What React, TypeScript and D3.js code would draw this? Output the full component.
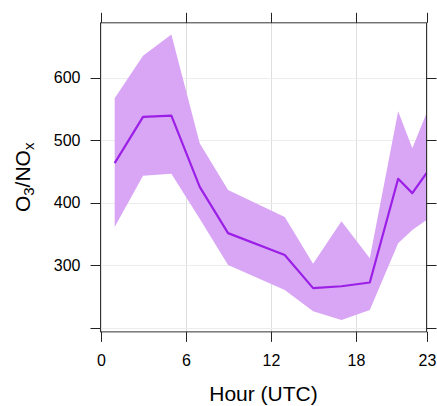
import React from "react";
import * as d3 from "d3";

const hours = [1, 3, 5, 7, 9, 13, 15, 17, 19, 21, 22, 23];
const meanRatio = [463, 537, 539, 425, 351, 316, 263, 266, 272, 438, 415, 447];
const upperRatio = [567, 635, 669, 495, 420, 377, 302, 370, 311, 546, 487, 543];
const lowerRatio = [361, 443, 446, 374, 300, 260, 226, 212, 228, 335, 356, 372];
const xTicks = [0, 6, 12, 18, 23];
const yTicks = [200, 300, 400, 500, 600];
const yLabelTicks = [300, 400, 500, 600];

export default function App() {
  const W = 437, H = 406;
  const x = d3.scaleLinear().domain([0, 23]).range([100.5, 426.5]);
  const y = d3.scaleLinear().domain([200, 600]).range([327.5, 77.5]);
  const yTop = y(687.5);
  const yBot = y(193);
  const left = x(0), right = x(23);

  const rows = hours.map((h, i) => ({ h, m: meanRatio[i], u: upperRatio[i], l: lowerRatio[i] }));
  const area = d3.area<any>().x(d => x(d.h)).y0(d => y(d.l)).y1(d => y(d.u));
  const line = d3.line<any>().x(d => x(d.h)).y(d => y(d.m));
  const font = "Liberation Sans, Arial, sans-serif";

  return (
    <svg width={W} height={H} style={{ position: "absolute", left: 0, top: 0 }} fontFamily={font}>
      <rect x={0} y={0} width={W} height={H} fill="white" />
      {xTicks.map(t => (
        <line key={"gx" + t} x1={Math.round(x(t)) + 0.5} x2={Math.round(x(t)) + 0.5} y1={yTop} y2={yBot} stroke="#dedede" strokeWidth={1} />
      ))}
      {yTicks.map(t => (
        <line key={"gy" + t} x1={left} x2={right} y1={Math.round(y(t)) + 0.5} y2={Math.round(y(t)) + 0.5} stroke="#ececec" strokeWidth={1} />
      ))}
      <path d={area(rows) || ""} fill="#d9a6f6" />
      <path d={line(rows) || ""} fill="none" stroke="#9b1fe6" strokeWidth={2.2} strokeLinejoin="round" />
      <rect x={left} y={yTop} width={right - left} height={yBot - yTop} fill="none" stroke="#333" strokeWidth={1} />
      {xTicks.map(t => {
        const px = Math.round(x(t)) + 0.5;
        return (
          <g key={"tx" + t}>
            <line x1={px} x2={px} y1={yBot} y2={yBot + 10} stroke="#222" />
            <line x1={px} x2={px} y1={yTop} y2={yTop - 10} stroke="#222" />
            <text x={px} y={366} textAnchor="middle" fontSize={16} fill="#000">{t}</text>
          </g>
        );
      })}
      {yTicks.map(t => {
        const py = Math.round(y(t)) + 0.5;
        return (
          <g key={"ty" + t}>
            <line x1={left} x2={left - 10} y1={py} y2={py} stroke="#222" />
            <line x1={right} x2={right + 10} y1={py} y2={py} stroke="#222" />
          </g>
        );
      })}
      {yLabelTicks.map(t => (
        <text key={"ly" + t} x={80.5} y={y(t) + 5.8} textAnchor="end" fontSize={16} fill="#000">{t}</text>
      ))}
      <text x={(left + right) / 2} y={401} textAnchor="middle" fontSize={21} fill="#000">Hour (UTC)</text>
      <text transform={`translate(30,${(yTop + yBot) / 2}) rotate(-90)`} textAnchor="middle" fontSize={21} fill="#000">
        O<tspan fontSize={15} dy={4}>3</tspan><tspan dy={-4}>/NO</tspan><tspan fontSize={15} dy={4}>x</tspan>
      </text>
    </svg>
  );
}
